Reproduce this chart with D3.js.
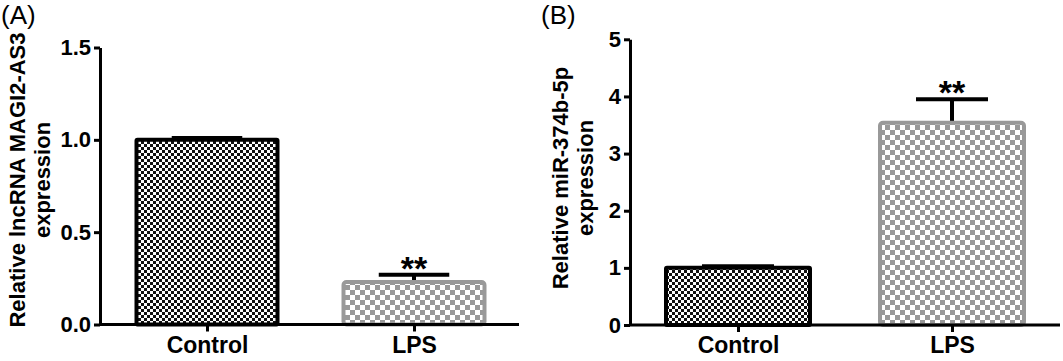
<!DOCTYPE html>
<html>
<head>
<meta charset="utf-8">
<script src="https://cdn.jsdelivr.net/npm/d3@7"></script>
<style>
  body { margin: 0; background: #fff; }
  text { font-family: "Liberation Sans", Arial, sans-serif; }
</style>
</head>
<body>
<script>
// data
var categories = ["Control", "LPS"];
var valuesA = [1.0, 0.23];
var errorsA = [0.01, 0.04];
var valuesB = [1.0, 3.54];
var errorsB = [0.03, 0.41];
var ticksA = [0, 0.5, 1.0, 1.5];
var ticksB = [0, 1, 2, 3, 4, 5];
var signif = ["", "**"];

var W = 1063, H = 361;
var svg = d3.select("body").append("svg")
    .attr("width", W)
    .attr("height", H);

var defs = svg.append("defs");
var p1 = defs.append("pattern").attr("id", "darkCheck")
    .attr("patternUnits", "userSpaceOnUse").attr("width", 6).attr("height", 6);
p1.append("rect").attr("width", 6).attr("height", 6).attr("fill", "#fff");
p1.append("rect").attr("width", 3).attr("height", 3).attr("fill", "#111");
p1.append("rect").attr("x", 3).attr("y", 3).attr("width", 3).attr("height", 3).attr("fill", "#111");

var p2 = defs.append("pattern").attr("id", "grayCheck")
    .attr("patternUnits", "userSpaceOnUse").attr("width", 10).attr("height", 10);
p2.append("rect").attr("width", 10).attr("height", 10).attr("fill", "#fff");
p2.append("rect").attr("width", 5).attr("height", 5).attr("fill", "#999");
p2.append("rect").attr("x", 5).attr("y", 5).attr("width", 5).attr("height", 5).attr("fill", "#999");

function panel(opt) {
    var g = svg.append("g");
    var y = d3.scaleLinear().domain(opt.domain).range([opt.y0, opt.y1]);
    var x = d3.scalePoint().domain(categories).range(opt.xr);
    var bw = opt.bw;

    // y axis
    var yAxis = d3.axisLeft(y).tickValues(opt.ticks).tickFormat(opt.fmt)
        .tickSizeInner(6).tickSizeOuter(0).tickPadding(3);
    var ya = g.append("g").attr("transform", "translate(" + opt.ax + ",0)").call(yAxis);
    ya.attr("font-size", null).attr("font-family", null);
    ya.select(".domain").attr("stroke", "#000").attr("stroke-width", 3);
    ya.selectAll(".tick line").attr("stroke", "#000").attr("stroke-width", 3);
    ya.selectAll(".tick text").style("font-size", "22px").style("font-weight", "bold")
        .attr("fill", "#000");

    var bars = categories.map(function (c, i) {
        return {c: c, v: opt.values[i], e: opt.errors[i], s: signif[i], i: i};
    });

    // error bars (behind bar)
    g.selectAll(".err").data(bars).enter().append("line")
        .attr("x1", function (d) { return x(d.c); })
        .attr("x2", function (d) { return x(d.c); })
        .attr("y1", function (d) { return y(d.v); })
        .attr("y2", function (d) { return y(d.v + d.e); })
        .attr("stroke", "#000").attr("stroke-width", 4);
    g.selectAll(".cap").data(bars).enter().append("line")
        .attr("x1", function (d) { return x(d.c) - bw / 4; })
        .attr("x2", function (d) { return x(d.c) + bw / 4; })
        .attr("y1", function (d) { return y(d.v + d.e); })
        .attr("y2", function (d) { return y(d.v + d.e); })
        .attr("stroke", "#000").attr("stroke-width", 4);

    g.selectAll(".bar").data(bars).enter().append("rect")
        .attr("x", function (d) { return x(d.c) - bw / 2; })
        .attr("y", function (d) { return y(d.v); })
        .attr("width", bw)
        .attr("height", function (d) { return y(0) - y(d.v); })
        .attr("rx", function (d) { return d.i === 0 ? 1 : 3; })
        .attr("fill", function (d) { return d.i === 0 ? "url(#darkCheck)" : "url(#grayCheck)"; })
        .attr("stroke", function (d) { return d.i === 0 ? "#000" : "#999"; })
        .attr("stroke-width", 4);

    g.selectAll(".sig").data(bars).enter().append("text")
        .attr("x", function (d) { return x(d.c); })
        .attr("y", function (d) { return y(d.v + d.e) + 5; })
        .attr("text-anchor", "middle")
        .style("font-size", "34px")
        .style("font-weight", "bold")
        .text(function (d) { return d.s; });

    // x axis
    var xAxis = d3.axisBottom(x).tickSizeInner(7).tickSizeOuter(0).tickPadding(5);
    var xa = g.append("g").attr("transform", "translate(0," + y(0) + ")").call(xAxis);
    xa.attr("font-size", null).attr("font-family", null);
    xa.select(".domain").attr("d", "M" + opt.ax + ",0H" + opt.axEnd)
        .attr("stroke", "#000").attr("stroke-width", 3);
    xa.selectAll(".tick line").attr("stroke", "#000").attr("stroke-width", 3);
    xa.selectAll(".tick text").style("font-size", "23px").style("font-weight", "bold")
        .attr("fill", "#000");

    // y label
    var lab = g.append("text")
        .attr("transform", "translate(" + opt.labX + "," + opt.labY + ") rotate(-90)")
        .attr("text-anchor", "middle")
        .style("font-size", "22px")
        .style("font-weight", "bold");
    lab.append("tspan").attr("x", 0).attr("dy", 0).text(opt.label[0]);
    lab.append("tspan").attr("x", 0).attr("dy", 25).text(opt.label[1]);

    g.append("text").attr("x", opt.tagX).attr("y", 24)
        .style("font-size", "26px").text(opt.tag);
}

panel({
    domain: [0, 1.5], y0: 324.5, y1: 47.5, ticks: ticksA,
    fmt: d3.format(".1f"), ax: 100, axEnd: 519, xr: [207, 414], bw: 141,
    values: valuesA, errors: errorsA,
    label: ["Relative lncRNA MAGI2-AS3", "expression"], labX: 25, labY: 180,
    tag: "(A)", tagX: 1
});

panel({
    domain: [0, 5], y0: 325, y1: 39.3, ticks: ticksB,
    fmt: d3.format("d"), ax: 630, axEnd: 1060, xr: [738, 952], bw: 144,
    values: valuesB, errors: errorsB,
    label: ["Relative miR-374b-5p", "expression"], labX: 568, labY: 178,
    tag: "(B)", tagX: 541
});
</script>
</body>
</html>
